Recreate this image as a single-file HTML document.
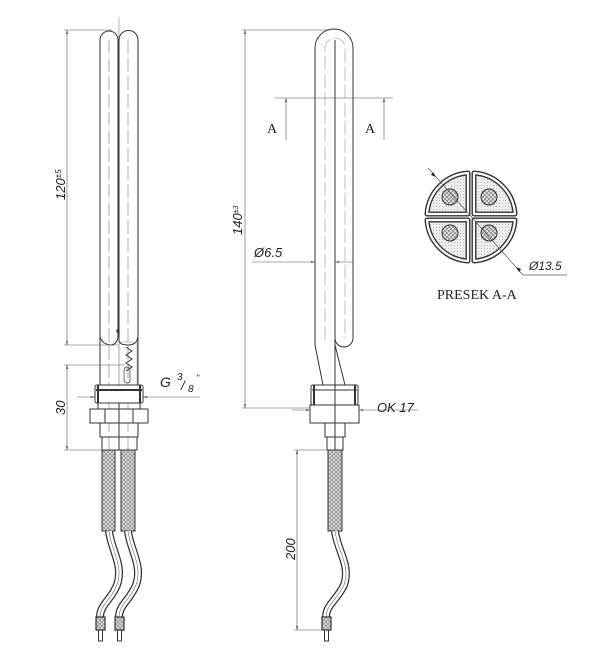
<!DOCTYPE html>
<html><head><style>
html,body{margin:0;padding:0;background:#fff;}
svg{display:block;}
text{font-family:"Liberation Sans",sans-serif;fill:#222;}
</style></head><body>
<svg width="600" height="662" viewBox="0 0 600 662" xmlns="http://www.w3.org/2000/svg">
<defs>
<pattern id="hatch" width="4" height="4" patternUnits="userSpaceOnUse">
<rect width="4" height="4" fill="#ddd"/>
<path d="M0,4 L4,0 M0,0 L4,4" stroke="#777" stroke-width="0.6"/>
</pattern>
<pattern id="dots" width="3" height="3" patternUnits="userSpaceOnUse">
<rect width="3" height="3" fill="#eee"/><circle cx="1.5" cy="1.5" r="0.5" fill="#aaa"/>
</pattern>
<marker id="ar" viewBox="0 0 10 10" refX="10" refY="5" markerWidth="7" markerHeight="7" orient="auto-start-reverse"><path d="M0,3 L10,5 L0,7z" fill="#222"/></marker>
</defs>
<g fill="none" stroke="#333" stroke-width="1">
<!-- LEFT VIEW -->
<line x1="119" y1="17" x2="119" y2="450" stroke="#888" stroke-width="0.6"/>
<path d="M100,385 L100,40 A9,9 0 0 1 118,40 L118,335 Q118,345 110,345 Q100,343 100,335"/>
<path d="M119,340 L119,40 A9.5,9.5 0 0 1 138,40 L138,385"/>
<path d="M138,335 Q138,345 128,345 Q119,345 119,340"/>
<line x1="109" y1="40" x2="109" y2="450" stroke="#777" stroke-width="0.6" stroke-dasharray="14,4"/>
<line x1="128" y1="40" x2="128" y2="450" stroke="#777" stroke-width="0.6" stroke-dasharray="14,4"/>
<rect x="119" y="342" width="18" height="43" stroke="#999" stroke-width="0.6"/>
<path d="M126,347 l6,4 -6,4 6,4 -6,4 6,4 -6,4" stroke-width="1"/>
<rect x="124" y="367" width="6" height="16" rx="3" stroke-width="0.7"/>
<circle cx="118" cy="331" r="1.2"/>
<rect x="95" y="385" width="48" height="18" rx="2" fill="#fff"/>
<line x1="96" y1="390" x2="142" y2="390" stroke-width="2"/>
<line x1="98" y1="385" x2="98" y2="403" stroke-width="2"/>
<line x1="140" y1="385" x2="140" y2="403" stroke-width="2"/>
<rect x="98" y="403" width="42" height="6"/>
<rect x="90" y="409" width="58" height="14" fill="#fff"/>
<line x1="105" y1="409" x2="105" y2="423"/><line x1="133" y1="409" x2="133" y2="423"/>
<rect x="100" y="423" width="38" height="14"/>
<rect x="102" y="437" width="35" height="13"/>
<line x1="119" y1="403" x2="119" y2="450"/>
<rect x="102" y="450" width="13" height="81" fill="url(#hatch)"/>
<rect x="121" y="450" width="14" height="81" fill="url(#hatch)"/>
<!-- left wires -->
<g id="w1">
<path d="M109,531 C111,550 124,565 117,585 C111,600 100,605 100,617" stroke="#333" stroke-width="8"/>
<path d="M109,531 C111,550 124,565 117,585 C111,600 100,605 100,617" stroke="#fff" stroke-width="5.5"/>
<path d="M109,531 C111,550 124,565 117,585 C111,600 100,605 100,617" stroke="#666" stroke-width="0.6"/>
</g>
<path d="M128,531 C130,550 143,565 136,585 C130,600 119,605 119,617" stroke="#333" stroke-width="8"/>
<path d="M128,531 C130,550 143,565 136,585 C130,600 119,605 119,617" stroke="#fff" stroke-width="5.5"/>
<path d="M128,531 C130,550 143,565 136,585 C130,600 119,605 119,617" stroke="#666" stroke-width="0.6"/>
<rect x="96" y="617" width="9" height="13" fill="url(#hatch)" stroke-width="1.2"/>
<rect x="98.5" y="630" width="4" height="11"/>
<rect x="115" y="617" width="9" height="13" fill="url(#hatch)" stroke-width="1.2"/>
<rect x="117.5" y="630" width="4" height="11"/>
<!-- left dims -->
<g stroke="#555" stroke-width="0.6">
<line x1="64" y1="30" x2="112" y2="30"/>
<line x1="64" y1="345" x2="118" y2="345"/>
<line x1="64" y1="365" x2="125" y2="365"/>
<line x1="64" y1="450" x2="102" y2="450"/>
<line x1="67" y1="30" x2="67" y2="345" marker-start="url(#ar)" marker-end="url(#ar)"/>
<line x1="67" y1="365" x2="67" y2="450" marker-start="url(#ar)" marker-end="url(#ar)"/>
<line x1="77" y1="397" x2="95" y2="397" marker-end="url(#ar)"/>
<line x1="143" y1="397" x2="200" y2="397" marker-start="url(#ar)"/>
</g>
<!-- RIGHT VIEW -->
<line x1="335" y1="40" x2="335" y2="453" stroke="#333"/>
<path d="M315,345 L315,48 A19,19 0 0 1 353,48 L353,338 A9,9 0 0 1 335,338"/>
<path d="M325,340 L325,48 A10,10 0 0 1 345,48 L345,338" stroke="#999" stroke-width="0.6" stroke-dasharray="14,4"/>
<path d="M315,345 L323,385 M335,345 L345,385"/>
<rect x="311" y="385" width="47" height="20" rx="2" fill="#fff"/>
<line x1="314" y1="385" x2="314" y2="405" stroke-width="2"/>
<line x1="355" y1="385" x2="355" y2="405" stroke-width="2"/>
<line x1="312" y1="390" x2="357" y2="390"/>
<rect x="310" y="405" width="49" height="18" fill="#fff"/>
<line x1="335" y1="385" x2="335" y2="423"/>
<rect x="325" y="423" width="20" height="14"/>
<rect x="327" y="437" width="16" height="13"/>
<rect x="328" y="450" width="14" height="81" fill="url(#hatch)"/>
<path d="M335,531 C337,550 351,565 344,585 C337,600 326,605 326,617" stroke="#333" stroke-width="8"/>
<path d="M335,531 C337,550 351,565 344,585 C337,600 326,605 326,617" stroke="#fff" stroke-width="5.5"/>
<path d="M335,531 C337,550 351,565 344,585 C337,600 326,605 326,617" stroke="#666" stroke-width="0.6"/>
<rect x="322" y="617" width="9" height="13" fill="url(#hatch)" stroke-width="1.2"/>
<rect x="324.5" y="630" width="4" height="11"/>
<g stroke="#555" stroke-width="0.6">
<line x1="242" y1="30" x2="330" y2="30"/>
<line x1="242" y1="408" x2="310" y2="408"/>
<line x1="245" y1="30" x2="245" y2="408" marker-start="url(#ar)" marker-end="url(#ar)"/>
<line x1="275" y1="98" x2="393" y2="98"/>
<line x1="286" y1="140" x2="286" y2="98" marker-end="url(#ar)"/>
<line x1="384" y1="140" x2="384" y2="98" marker-end="url(#ar)"/>
<line x1="252" y1="262" x2="315" y2="262" marker-end="url(#ar)"/>
<line x1="335" y1="262" x2="353" y2="262" marker-start="url(#ar)"/>
<line x1="292" y1="410" x2="310" y2="410" marker-end="url(#ar)"/>
<line x1="359" y1="410" x2="418" y2="410" marker-start="url(#ar)"/>
<line x1="294" y1="450" x2="328" y2="450"/>
<line x1="294" y1="630" x2="322" y2="630"/>
<line x1="297" y1="450" x2="297" y2="630" marker-start="url(#ar)" marker-end="url(#ar)"/>
</g>
<!-- SECTION -->
<g transform="translate(471,217)">
<g stroke="#333" stroke-width="5" fill="url(#dots)">
<path d="M3,-3 L3,-44 A44,44 0 0 1 44,-3 Z" stroke-linejoin="round"/>
<path d="M-3,-3 L-3,-44 A44,44 0 0 0 -44,-3 Z" stroke-linejoin="round"/>
<path d="M3,3 L3,44 A44,44 0 0 0 44,3 Z" stroke-linejoin="round"/>
<path d="M-3,3 L-3,44 A44,44 0 0 1 -44,3 Z" stroke-linejoin="round"/>
</g>
<g stroke="#fff" stroke-width="2.2" fill="none" stroke-linejoin="round">
<path d="M3,-3 L3,-44 A44,44 0 0 1 44,-3 Z"/>
<path d="M-3,-3 L-3,-44 A44,44 0 0 0 -44,-3 Z"/>
<path d="M3,3 L3,44 A44,44 0 0 0 44,3 Z"/>
<path d="M-3,3 L-3,44 A44,44 0 0 1 -44,3 Z"/>
</g>
<g fill="url(#hatch)" stroke="#333" stroke-width="1">
<circle cx="-21" cy="-20" r="8"/><circle cx="18" cy="-20" r="8"/>
<circle cx="-21" cy="16" r="8"/><circle cx="18" cy="16" r="8"/>
</g>
</g>
<path d="M428,168 L523,275 L567,275" stroke="#555" stroke-width="0.7"/>
<path d="M436,177 l-5,-2 2,-3z M516,267 l5,2 -2,3z" fill="#222" stroke="none"/>
</g>
<!-- TEXT -->
<text transform="translate(65,200) rotate(-90)" font-size="13" font-style="italic">120<tspan font-size="8" dy="-4">±5</tspan></text>
<text transform="translate(65,415) rotate(-90)" font-size="13" font-style="italic">30</text>
<text x="160" y="387" font-size="14" font-style="italic">G</text>
<text x="177" y="380" font-size="10" font-style="italic">3</text>
<text x="181" y="390" font-size="13" font-style="italic">/</text>
<text x="188" y="392" font-size="10" font-style="italic">8</text>
<text x="196" y="381" font-size="9" font-style="italic">"</text>
<text transform="translate(242,235) rotate(-90)" font-size="13" font-style="italic">140<tspan font-size="7" dy="-4">±3</tspan></text>
<text x="267" y="133" font-size="14" font-family="Liberation Serif, serif" style="font-family:'Liberation Serif',serif">A</text>
<text x="365" y="133" font-size="14" style="font-family:'Liberation Serif',serif">A</text>
<text x="254" y="257" font-size="13" font-style="italic">Ø6.5</text>
<text x="377" y="412" font-size="13" font-style="italic">OK 17</text>
<text transform="translate(295,560) rotate(-90)" font-size="13" font-style="italic">200</text>
<text x="529" y="270" font-size="12" font-style="italic">Ø13.5</text>
<text x="437" y="299" font-size="14" style="font-family:'Liberation Serif',serif">PRESEK A-A</text>
</svg>
</body></html>
